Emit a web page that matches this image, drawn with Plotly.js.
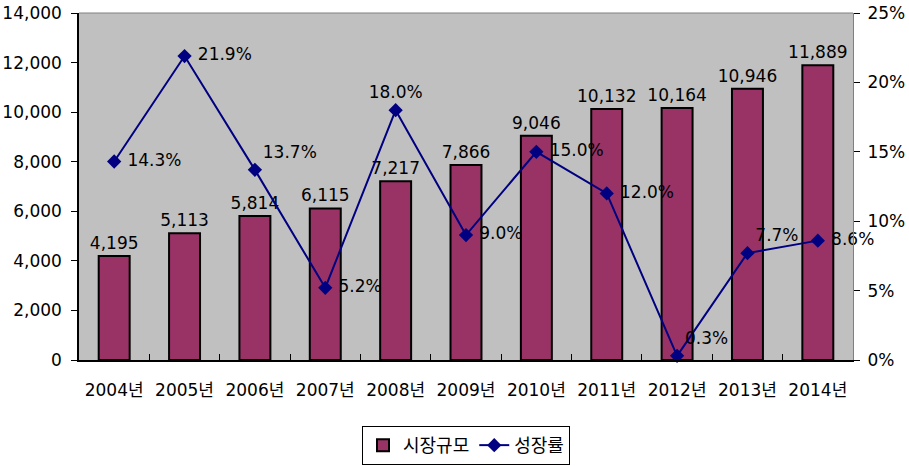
<!DOCTYPE html>
<html><head><meta charset="utf-8">
<script src="https://cdn.plot.ly/plotly-3.0.1.min.js"></script>
<style>body{margin:0;background:#fff}#c{width:909px;height:466px}</style>
</head><body><div id="c"></div>
<script>
const categories = ["2004년","2005년","2006년","2007년","2008년","2009년","2010년","2011년","2012년","2013년","2014년"];
const marketSize = [4195,5113,5814,6115,7217,7866,9046,10132,10164,10946,11889];
const growthRate = [14.3,21.9,13.7,5.2,18.0,9.0,15.0,12.0,0.3,7.7,8.6];
const leftTicks = [0,2000,4000,6000,8000,10000,12000,14000];
const rightTicks = [0,5,10,15,20,25];
const F = '"DejaVu Sans", "Noto Sans CJK KR", sans-serif';
const bar = {
  type:'bar', name:'시장규모', x:categories, y:marketSize,
  marker:{color:'#993366', line:{color:'#000', width:2}},
  width:0.44,
  text: marketSize.map(v=>v.toLocaleString('en-US')),
  textposition:'outside', cliponaxis:false, constraintext:'none', textangle:0,
  textfont:{family:F, size:17, color:'#000'}
};
const pos = ['middle right','middle right','top right','middle right','top center','middle right','middle right','middle right','top right','top right','middle right'];
const line = {
  type:'scatter', mode:'lines+markers+text', name:'성장률', x:categories, y:growthRate, yaxis:'y2',
  line:{color:'#000080', width:2},
  marker:{symbol:'diamond', size:11, color:'#000080'},
  text: growthRate.map((v,i)=>(pos[i]==='middle right'?'\u00a0':'')+v.toFixed(1)+'%'),
  textposition:pos,
  cliponaxis:false,
  textfont:{family:F, size:17, color:'#000'}
};
const layout = {
  width:909, height:466,
  margin:{l:79, r:56, t:13, b:106, autoexpand:false},
  paper_bgcolor:'#fff', plot_bgcolor:'#C0C0C0',
  font:{family:F, size:17, color:'#000'},
  showlegend:true,
  legend:{orientation:'h', x:0.5, xanchor:'center', y:-0.19, yanchor:'top',
          bordercolor:'#000', borderwidth:1, bgcolor:'#fff', font:{family:F, size:18}},
  xaxis:{type:'category', range:[-0.5,10.5], autorange:false, showline:true, linecolor:'#000', linewidth:1.5,
         ticks:'inside', tickson:'boundaries', ticklen:6, tickcolor:'#000',
         showgrid:false, tickfont:{family:F, size:17}, ticklabelstandoff:14},
  yaxis:{range:[0,14000.5], tickmode:'array', tickvals:leftTicks, ticktext:leftTicks.map(v=>v.toLocaleString('en-US')),
         showline:true, linecolor:'#000', linewidth:1.5,
         ticks:'outside', ticklen:6, tickcolor:'#000', showgrid:false, zeroline:false,
         tickfont:{family:F, size:17}, ticklabelstandoff:6},
  yaxis2:{overlaying:'y', side:'right', range:[0,25.001], tickmode:'array', tickvals:rightTicks, ticktext:rightTicks.map(v=>v+'%'),
          showline:true, linecolor:'#808080', linewidth:1, ticks:'outside', ticklen:6, tickcolor:'#000',
          showgrid:false, zeroline:false, tickfont:{family:F, size:17}, ticklabelstandoff:4},
  shapes:[{type:'line', xref:'paper', yref:'paper', x0:0, x1:1, y0:1, y1:1, line:{color:'#808080', width:1}}]
};
Plotly.newPlot('c',[bar,line],layout,{displayModeBar:false});
</script></body></html>
